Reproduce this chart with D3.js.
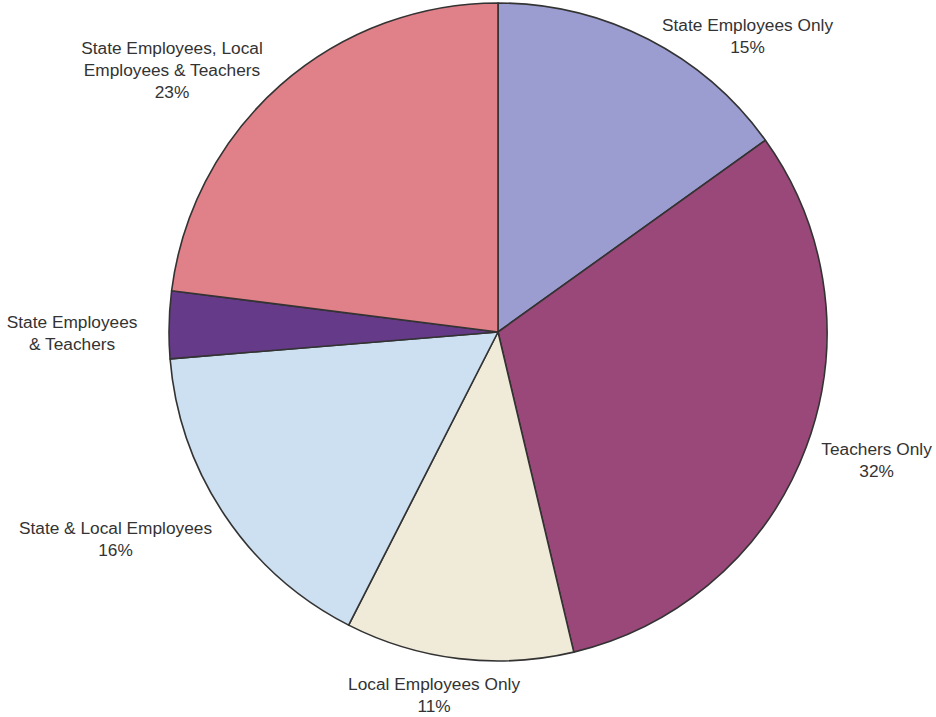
<!DOCTYPE html>
<html>
<head>
<meta charset="utf-8">
<script src="https://cdn.jsdelivr.net/npm/d3@7"></script>
<style>
  html, body { margin: 0; padding: 0; background: #fff; }
  svg { display: block; }
  text { font-family: "Liberation Sans", Arial, sans-serif; font-size: 17.3px; fill: #333; }
</style>
</head>
<body>
<div id="chart"></div>
<script>
// ---------------- data (clockwise from 12 o'clock) ----------------
const categories = [
    "State Employees Only",
    "Teachers Only",
    "Local Employees Only",
    "State & Local Employees",
    "State Employees & Teachers",
    "State Employees, Local Employees & Teachers"
];
// slice shares (percent)
const shares = [15.1, 31.2, 11.2, 16.2, 3.3, 23.0];
// percentages printed in the labels ("" = none shown)
const pctLabels = ["15%", "32%", "11%", "16%", "", "23%"];
// how each label breaks into lines
const labelLines = [
    ["State Employees Only"],
    ["Teachers Only"],
    ["Local Employees Only"],
    ["State & Local Employees"],
    ["State Employees", "& Teachers"],
    ["State Employees, Local", "Employees & Teachers"]
];
const colors = ["#9b9dd1", "#9a4779", "#f0ead8", "#cde0f2", "#653a88", "#e08088"];

// ---------------- layout ----------------
const W = 936, H = 717;
const cx = 498, cy = 332, R = 329;
const lineH = 22;
// nudges from the mid-angle anchor to where Excel put each label block
const labelNudge = [[81, 32], [33, -1], [-20, -3], [-76, 2], [-57, 9], [-82, 15]];

const svg = d3.select("#chart")
    .append("svg")
    .attr("width", W)
    .attr("height", H);

const g = svg.append("g").attr("transform", `translate(${cx},${cy})`);

const pie = d3.pie().sort(null).value(d => d.value);
const arc = d3.arc().innerRadius(0).outerRadius(R);

const rows = categories.map((c, i) => ({ name: c, value: shares[i], i: i }));
const arcs = pie(rows);

g.selectAll("path.slice")
    .data(arcs)
    .enter()
    .append("path")
    .attr("class", "slice")
    .attr("d", arc)
    .attr("fill", d => colors[d.data.i])
    .attr("stroke", "#333")
    .attr("stroke-width", 1.6)
    .attr("stroke-linejoin", "round");

// labels
const labelR = R + 40;
arcs.forEach(d => {
    const i = d.data.i;
    const mid = (d.startAngle + d.endAngle) / 2;
    const x = Math.sin(mid) * labelR + labelNudge[i][0];
    const y = -Math.cos(mid) * labelR + labelNudge[i][1];
    const lines = labelLines[i].slice();
    if (pctLabels[i]) lines.push(pctLabels[i]);
    const top = y - (lines.length - 1) * lineH / 2;
    const t = g.append("text")
        .attr("text-anchor", "middle")
        .attr("dominant-baseline", "central");
    lines.forEach((s, k) => {
        t.append("tspan")
            .attr("x", x)
            .attr("y", top + k * lineH)
            .text(s);
    });
});
</script>
</body>
</html>
